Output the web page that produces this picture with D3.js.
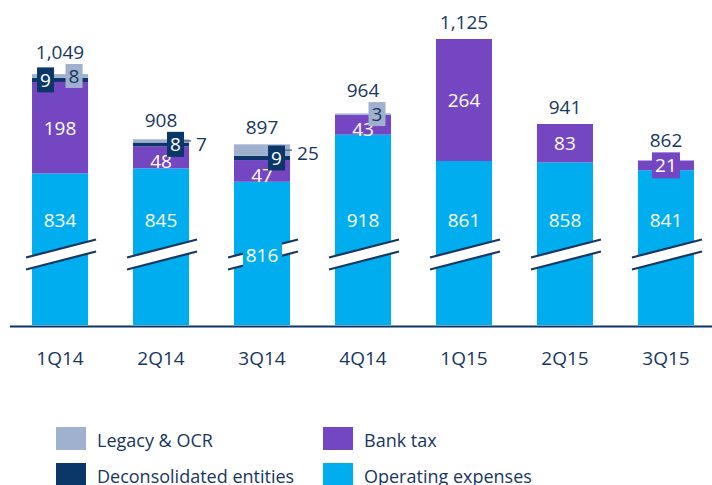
<!DOCTYPE html>
<html>
<head>
<meta charset="utf-8">
<script src="https://cdn.jsdelivr.net/npm/d3@7"></script>
<style>
    html, body { margin: 0; padding: 0; background: #fff; }
    #chart { width: 712px; height: 485px; }
    text { font-family: 'Open Sans', sans-serif; }
</style>
</head>
<body>
<div id="chart"></div>
<script>
// Data
const categories = ['1Q14', '2Q14', '3Q14', '4Q14', '1Q15', '2Q15', '3Q15'];
const operatingExpenses = [834, 845, 816, 918, 861, 858, 841];
const bankTax = [198, 48, 47, 43, 264, 83, 21];
const deconsolidatedEntities = [9, 8, 9, 0, 0, 0, 0];
const legacyOcr = [8, 7, 25, 3, 0, 0, 0];

const seriesKeys = ['opex', 'bankTax', 'decon', 'legacy'];
const seriesNames = {
    legacy: 'Legacy & OCR',
    bankTax: 'Bank tax',
    decon: 'Deconsolidated entities',
    opex: 'Operating expenses'
};
const colors = {
    opex: '#00AEEF',
    bankTax: '#7446C2',
    decon: '#0B3668',
    legacy: '#A0B1CF'
};
const navy = '#17375E';

// layout of the small labels
const deconBoxSide = { '1Q14': -1 };                  // default: right half of bar
const legacyOutside = ['2Q14', '3Q14'];               // label next to bar, with leader
const opexLabelOnBreak = ['3Q14'];
const axisStart = 506;                                // hidden part below the break
const breakValue = 658;

const rows = categories.map((c, i) => ({
    cat: c,
    opex: operatingExpenses[i],
    bankTax: bankTax[i],
    decon: deconsolidatedEntities[i],
    legacy: legacyOcr[i]
}));
const stacked = d3.stack().keys(seriesKeys)(rows);

const width = 712, height = 485;

const x = d3.scaleBand()
    .domain(categories)
    .range([9.5, 716.5])
    .paddingInner(0.445)
    .paddingOuter(0.223);

const y = d3.scaleLinear()
    .domain([axisStart, d3.max(rows, d => d.opex + d.bankTax + d.decon + d.legacy)])
    .range([325, 39])
    .clamp(true);

const svg = d3.select('#chart')
    .append('svg')
    .attr('width', width)
    .attr('height', height);

// bars
svg.append('g')
    .selectAll('g')
    .data(stacked)
    .join('g')
    .attr('fill', d => colors[d.key])
    .selectAll('rect')
    .data(d => d.filter(s => s[1] > s[0]))
    .join('rect')
    .attr('x', d => x(d.data.cat))
    .attr('y', d => y(d[1]))
    .attr('width', x.bandwidth())
    .attr('height', d => y(d[0]) - y(d[1]));

// axis
const xAxis = svg.append('g')
    .attr('transform', 'translate(0,326)')
    .call(d3.axisBottom(x).tickSize(0).tickSizeOuter(0));

xAxis.select('.domain')
    .attr('stroke', colors.decon)
    .attr('stroke-width', 1.8);

xAxis.selectAll('text')
    .attr('y', 39)
    .attr('dy', 0)
    .attr('fill', navy)
    .style('font-size', '19px')
    .style('font-family', "'Open Sans', sans-serif");

// axis break marks
const breakY = y(breakValue);
const slope = 18 / 70;
const breaks = svg.append('g')
    .selectAll('g')
    .data(categories)
    .join('g')
    .attr('transform', d => `translate(${x(d) + x.bandwidth() / 2},${breakY})`);

breaks.append('path')
    .attr('fill', '#fff')
    .attr('d', `M-34,${-6 + 34 * slope}L36,${-6 - 36 * slope}L36,${6 - 36 * slope}L-34,${6 + 34 * slope}Z`);

breaks.selectAll('line')
    .data([-6, 6])
    .join('line')
    .attr('x1', -34)
    .attr('x2', 36)
    .attr('y1', d => d + 34 * slope)
    .attr('y2', d => d - 36 * slope)
    .attr('stroke', navy)
    .attr('stroke-width', 2.2);

// value labels
const labels = svg.append('g')
    .style('font-size', '19px')
    .attr('text-anchor', 'middle');

const segOf = (key, i) => stacked.find(s => s.key === key)[i];
const cx = c => x(c) + x.bandwidth() / 2;

// operating expenses
rows.forEach((r, i) => {
    const onBreak = opexLabelOnBreak.includes(r.cat);
    const base = onBreak ? breakY + 7 : breakY - 28;
    if (onBreak) {
        labels.append('rect')
            .attr('x', cx(r.cat) - 19)
            .attr('y', breakY - 17)
            .attr('width', 39)
            .attr('height', 33)
            .attr('fill', colors.opex);
    }
    labels.append('text')
        .attr('x', cx(r.cat))
        .attr('y', base)
        .attr('fill', '#fff')
        .text(r.opex);
});

// tops of the small boxes, used to lift the totals
const boxTops = categories.map(() => Infinity);

// bank tax
rows.forEach((r, i) => {
    const s = segOf('bankTax', i);
    const top = y(s[1]), bottom = y(s[0]);
    const h = bottom - top;
    const mid = (top + bottom) / 2;
    if (h < 16) {
        labels.append('rect')
            .attr('x', cx(r.cat) - 14)
            .attr('y', mid - 13)
            .attr('width', 28)
            .attr('height', 26)
            .attr('fill', colors.bankTax);
        boxTops[i] = Math.min(boxTops[i], mid - 13);
        labels.append('text')
            .attr('x', cx(r.cat))
            .attr('y', mid + 7)
            .attr('fill', '#fff')
            .text(r.bankTax);
    } else {
        labels.append('text')
            .attr('x', cx(r.cat))
            .attr('y', mid + 7 + (h < 30 ? 4 : 0))
            .attr('fill', '#fff')
            .text(r.bankTax);
    }
});

// deconsolidated entities
rows.forEach((r, i) => {
    if (!r.decon) return;
    const s = segOf('decon', i);
    const mid = (y(s[0]) + y(s[1])) / 2;
    const side = deconBoxSide[r.cat] || 1;
    const bx = cx(r.cat) + side * 14.5;
    labels.append('rect')
        .attr('x', bx - 8.5)
        .attr('y', mid - 12.5)
        .attr('width', 17)
        .attr('height', 25)
        .attr('fill', colors.decon);
    boxTops[i] = Math.min(boxTops[i], mid - 12.5);
    labels.append('text')
        .attr('x', bx)
        .attr('y', mid + 7)
        .attr('fill', '#fff')
        .text(r.decon);
});

// legacy & OCR
rows.forEach((r, i) => {
    if (!r.legacy) return;
    const s = segOf('legacy', i);
    const mid = (y(s[0]) + y(s[1])) / 2;
    const right = x(r.cat) + x.bandwidth();
    if (legacyOutside.includes(r.cat)) {
        labels.append('line')
            .attr('x1', cx(r.cat) + 23)
            .attr('x2', right + 2)
            .attr('y1', mid)
            .attr('y2', mid)
            .attr('stroke', '#5b6f8c')
            .attr('stroke-width', 1.5);
        labels.append('text')
            .attr('x', right + 7)
            .attr('y', mid + 10)
            .attr('text-anchor', 'start')
            .attr('fill', navy)
            .text(r.legacy);
    } else {
        const bx = cx(r.cat) + 14;
        labels.append('rect')
            .attr('x', bx - 8.5)
            .attr('y', mid - 12)
            .attr('width', 17)
            .attr('height', 24)
            .attr('fill', colors.legacy);
        boxTops[i] = Math.min(boxTops[i], mid - 12);
        labels.append('text')
            .attr('x', bx)
            .attr('y', mid + 7)
            .attr('fill', navy)
            .text(r.legacy);
    }
});

// totals
const fmt = d3.format(',');
rows.forEach((r, i) => {
    const total = r.opex + r.bankTax + r.decon + r.legacy;
    const base = Math.min(y(total) - 10.5, boxTops[i] - 5);
    labels.append('text')
        .attr('x', cx(r.cat))
        .attr('y', base)
        .attr('fill', navy)
        .text(fmt(total));
});

// legend
const legendOrder = ['legacy', 'bankTax', 'decon', 'opex'];
const legend = svg.append('g')
    .selectAll('g')
    .data(legendOrder)
    .join('g')
    .attr('transform', (d, i) => `translate(${i % 2 ? 323 : 56},${i < 2 ? 427 : 463})`);

legend.append('rect')
    .attr('width', 30)
    .attr('height', 23)
    .attr('fill', d => colors[d]);

legend.append('text')
    .attr('x', 41)
    .attr('y', 20)
    .attr('fill', navy)
    .style('font-size', '18px')
    .text(d => seriesNames[d]);
</script>
</body>
</html>
